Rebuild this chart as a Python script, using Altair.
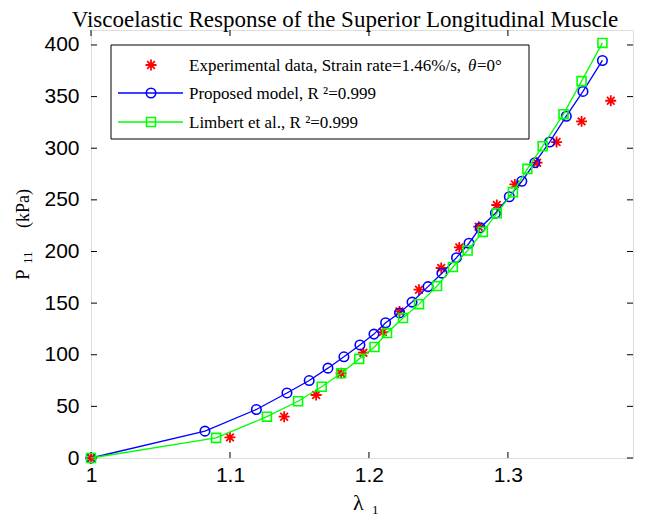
import altair as alt
import pandas as pd

# ---------------- data ----------------
exp_x = [1.0, 1.100, 1.139, 1.162, 1.180, 1.196, 1.210, 1.222, 1.236, 1.252,
         1.265, 1.279, 1.292, 1.305, 1.321, 1.335, 1.353, 1.374]
exp_y = [0, 20, 40, 61, 82, 102, 122, 142, 163, 184,
         204, 224, 245, 265, 286, 306, 326, 346]

prop_x = [1.0, 1.082, 1.119, 1.141, 1.157, 1.1705, 1.182, 1.1935, 1.2036, 1.212,
          1.222, 1.231, 1.2425, 1.2525, 1.263, 1.272, 1.280, 1.291, 1.301, 1.310,
          1.3194, 1.330, 1.342, 1.354, 1.368]
prop_y = [0, 26, 47, 63, 75, 87, 98, 109.5, 120, 131,
          140.5, 151, 166, 179, 194, 208, 223, 237, 253, 268,
          286, 306, 331, 355, 385]

lim_x = [1.0, 1.090, 1.1266, 1.149, 1.166, 1.180, 1.193, 1.204, 1.213, 1.2245,
         1.236, 1.249, 1.2604, 1.271, 1.282, 1.292, 1.3036, 1.314, 1.325, 1.340,
         1.353, 1.368]
lim_y = [0, 19.5, 40, 55, 69, 82, 96, 107.5, 121, 135.5,
         149, 166.5, 185, 201, 219, 237, 257.5, 280, 302, 333,
         365, 402]

x_ticks = [1.0, 1.1, 1.2, 1.3]
y_ticks = [0, 50, 100, 150, 200, 250, 300, 350, 400]

title_text = "Viscoelastic Response of the Superior Longitudinal Muscle"
legend_exp_main = "Experimental data, Strain rate=1.46%/s,  "
legend_exp_theta = "θ"
legend_exp_tail = "=0°"
legend_prop = "Proposed model, R ²=0.999"
legend_lim = "Limbert et al., R ²=0.999"
ylab_main = "P"
ylab_sub = "11"
ylab_unit = "(kPa)"
xlab_main = "λ"
xlab_sub = "1"

# ---------------- layout / style ----------------
W, H = 542, 428
RED, BLUE, GREEN = "#ff0000", "#0000ff", "#00ff00"
SERIF = "Liberation Serif"
SANS = "Liberation Sans"
ASTERISK = "M-1,0L1,0M0,-1L0,1M-0.7,-0.7L0.7,0.7M-0.7,0.7L0.7,-0.7"

xs = alt.Scale(domain=[1.0, 1.39], nice=False, zero=False)
ys = alt.Scale(domain=[0, 414.5], nice=False, zero=False)

x_axis = alt.Axis(values=x_ticks, format=".1~f", ticks=False, domain=False, grid=False,
                  labelFont=SANS, labelFontSize=21, labelPadding=6, labelColor="black",
                  labelFlush=False, labelOverlap=False, title=None)
y_axis = alt.Axis(values=y_ticks, ticks=False, domain=False, grid=False,
                  labelFont=SANS, labelFontSize=21, labelPadding=12, labelColor="black",
                  labelFlush=False, labelOverlap=False, title=None)

exp_df = pd.DataFrame({"x": exp_x, "y": exp_y})
prop_df = pd.DataFrame({"x": prop_x, "y": prop_y})
lim_df = pd.DataFrame({"x": lim_x, "y": lim_y})
one = pd.DataFrame({"a": [0]})

X = lambda: alt.X("x:Q", scale=xs, axis=x_axis)
Y = lambda: alt.Y("y:Q", scale=ys, axis=y_axis)

exp_pts = alt.Chart(exp_df).mark_point(shape=ASTERISK, filled=False, stroke=RED,
                                       strokeWidth=1.8, size=120, opacity=1).encode(x=X(), y=Y())
prop_line = alt.Chart(prop_df).mark_line(color=BLUE, strokeWidth=1.3).encode(x=X(), y=Y())
prop_pts = alt.Chart(prop_df).mark_point(shape="circle", filled=False, stroke=BLUE,
                                         strokeWidth=1.6, size=90, opacity=1).encode(x=X(), y=Y())
lim_line = alt.Chart(lim_df).mark_line(color=GREEN, strokeWidth=1.3).encode(x=X(), y=Y())
lim_pts = alt.Chart(lim_df).mark_point(shape="square", filled=False, stroke=GREEN,
                                       strokeWidth=1.6, size=80, opacity=1).encode(x=X(), y=Y())

# inward ticks on all four sides
xt_df = pd.DataFrame({"v": x_ticks})
yt_df = pd.DataFrame({"v": y_ticks})
TL = 6
tick_layers = [
    alt.Chart(xt_df).mark_rule(color="black", strokeWidth=1).encode(
        x=alt.X("v:Q", scale=xs), y=alt.value(H), y2=alt.value(H - TL)),
    alt.Chart(xt_df).mark_rule(color="black", strokeWidth=1).encode(
        x=alt.X("v:Q", scale=xs), y=alt.value(0), y2=alt.value(TL)),
    alt.Chart(yt_df).mark_rule(color="black", strokeWidth=1).encode(
        y=alt.Y("v:Q", scale=ys), x=alt.value(0), x2=alt.value(TL)),
    alt.Chart(yt_df).mark_rule(color="black", strokeWidth=1).encode(
        y=alt.Y("v:Q", scale=ys), x=alt.value(W - TL), x2=alt.value(W)),
]

# legend (drawn inside the axes box)
LX0, LX1, LY0, LY1 = 20, 438, 15, 109
ROWS = [35, 63, 92]
MX, L0, L1, TX = 60, 27, 92, 98
legend_layers = [
    alt.Chart(one).mark_rect(fill="white", stroke="black", strokeWidth=1).encode(
        x=alt.value(LX0), x2=alt.value(LX1), y=alt.value(LY0), y2=alt.value(LY1)),
    alt.Chart(one).mark_point(shape=ASTERISK, filled=False, stroke=RED, strokeWidth=1.8,
                              size=120, opacity=1).encode(x=alt.value(MX), y=alt.value(ROWS[0])),
    alt.Chart(one).mark_rule(color=BLUE, strokeWidth=1.3).encode(
        x=alt.value(L0), x2=alt.value(L1), y=alt.value(ROWS[1])),
    alt.Chart(one).mark_point(shape="circle", filled=False, stroke=BLUE, strokeWidth=1.6,
                              size=90, opacity=1).encode(x=alt.value(MX), y=alt.value(ROWS[1])),
    alt.Chart(one).mark_rule(color=GREEN, strokeWidth=1.3).encode(
        x=alt.value(L0), x2=alt.value(L1), y=alt.value(ROWS[2])),
    alt.Chart(one).mark_point(shape="square", filled=False, stroke=GREEN, strokeWidth=1.6,
                              size=80, opacity=1).encode(x=alt.value(MX), y=alt.value(ROWS[2])),
]
def ltext(txt, x, y, italic=False, size=17, align="left"):
    return alt.Chart(one).mark_text(font=SERIF, fontSize=size, align=align, baseline="alphabetic",
                                    color="black", fontStyle="italic" if italic else "normal").encode(
        x=alt.value(x), y=alt.value(y), text=alt.value(txt))
legend_layers += [
    ltext(legend_exp_main, TX, ROWS[0] + 6),
    ltext(legend_exp_theta, TX + 279, ROWS[0] + 6, italic=True),
    ltext(legend_exp_tail, TX + 288, ROWS[0] + 6),
    ltext(legend_prop, TX, ROWS[1] + 6),
    ltext(legend_lim, TX, ROWS[2] + 6),
]

# axis titles with subscripts, and the chart title
def rtext(txt, x, y, size):
    return alt.Chart(one).mark_text(font=SERIF, fontSize=size, align="left", baseline="alphabetic",
                                    angle=270, color="black").encode(
        x=alt.value(x), y=alt.value(y), text=alt.value(txt))
label_layers = [
    rtext(ylab_main, -62, 250, 19),
    rtext(ylab_sub, -59, 234, 13),
    rtext(ylab_unit, -62, 198, 18),
    ltext(xlab_main, 262, 480, size=22),
    ltext(xlab_sub, 281, 484, size=13),
    ltext(title_text, 254, -3, size=23, align="center"),
]

chart = alt.layer(
    *tick_layers, exp_pts, prop_line, prop_pts, lim_line, lim_pts, *legend_layers, *label_layers
).properties(
    width=W, height=H,
    autosize=alt.AutoSizeParams(type="none"),
    padding={"left": 83, "top": 22, "right": 5, "bottom": 60},
).configure_view(stroke="black", strokeWidth=1).configure(background="white")

chart.save("out.html", embed_options={"renderer": "svg", "actions": False})
